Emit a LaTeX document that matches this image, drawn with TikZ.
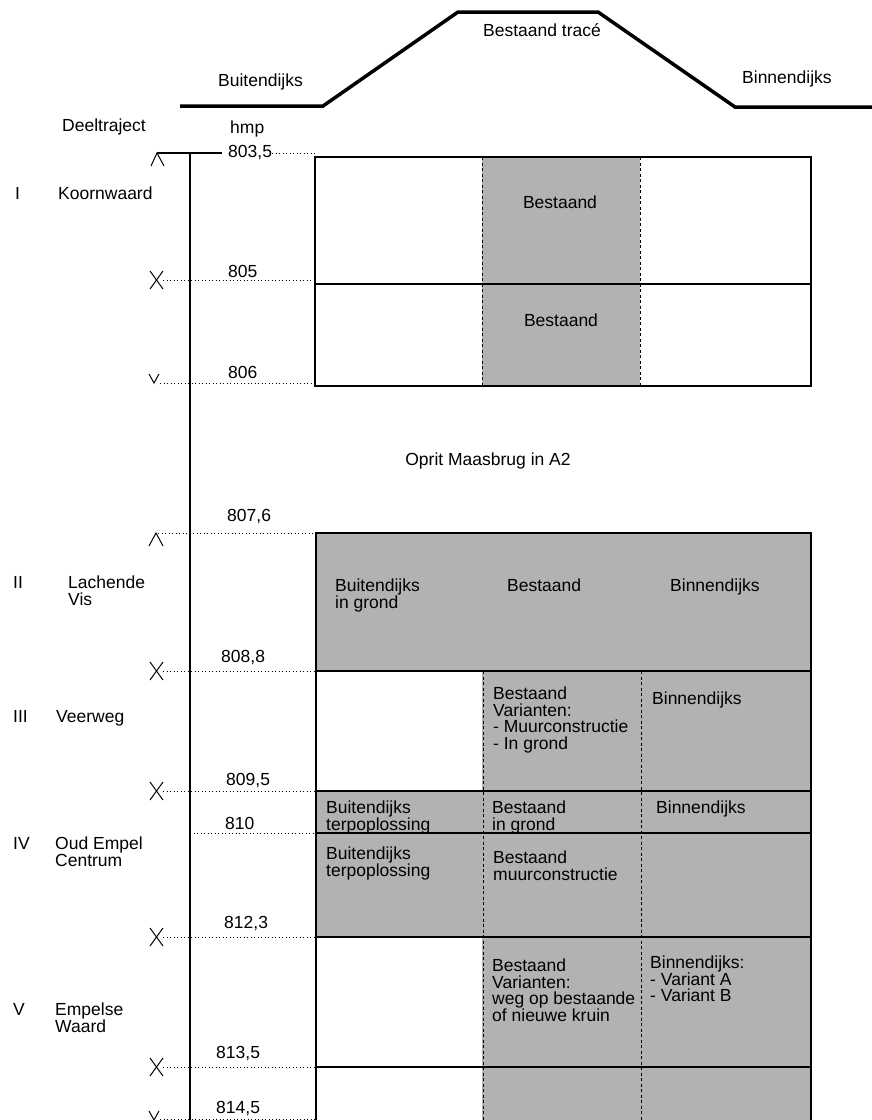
\documentclass[tikz,border=0pt]{standalone}
\usepackage{fontspec}
\setmainfont{Liberation Sans}
\tikzset{
  lbl/.style={font=\fontsize{17.5}{16.5}\selectfont, inner sep=0pt, align=left, anchor=north west},
  kmlbl/.style={font=\fontsize{17.5}{16.5}\selectfont, inner sep=0pt, anchor=west},
  shade/.style={fill=black!30, draw=none},
  kmline/.style={line width=1pt, dash pattern=on 1.2pt off 2.3pt},
  boxline/.style={line width=1.5pt},
  divline/.style={line width=0.7pt, dash pattern=on 3pt off 2.5pt},
  profile/.style={line width=3.5pt, line join=miter},
  kmmark/.style={line width=1pt}
}
\begin{document}
\begin{tikzpicture}[x=1pt, y=-1pt]
    \useasboundingbox (0,0) rectangle (872,1120);

    % 绘制堤身断面
    \draw[profile] (180,106) -- (323,106) -- (458,12) -- (598,12) -- (735,107) -- (872,107);
    \node[lbl] (buiten) at (218,74) {Buitendijks};
    \node[lbl] (trace) at (483,23) {Bestaand tracé};
    \node[lbl] (binnen) at (742,71) {Binnendijks};

    % 表头
    \node[lbl] (deel) at (62,119) {Deeltraject};
    \node[lbl] (hmp) at (230,121) {hmp};

    % 阴影区域
    \fill[shade] (482,157) rectangle (640,386);
    \fill[shade] (316,533) rectangle (811,671);
    \fill[shade] (482,671) rectangle (811,791);
    \fill[shade] (316,791) rectangle (811,937);
    \fill[shade] (482,937) rectangle (811,1120);

    % 上部表格
    \draw[boxline] (315,157) rectangle (811,386);
    \draw[boxline] (315,284) -- (811,284);
    \draw[divline] (482,157) -- (482,386);
    \draw[divline] (640,157) -- (640,386);

    % 下部表格
    \draw[boxline] (316,1120) -- (316,533) -- (811,533) -- (811,1120);
    \foreach \y in {671,791,833,937,1067}
        \draw[boxline] (316,\y) -- (811,\y);
    \draw[divline] (483,671) -- (483,1120);
    \draw[divline] (641,671) -- (641,1120);

    % 纵轴
    \draw[line width=1.4pt] (190,153) -- (190,1120);
    \draw[line width=1.2pt] (157,153) -- (222,153);

    % 标记
    \draw[kmmark] (151,166) -- (157,153) -- (164,166);
    \draw[kmmark] (149,546) -- (156,533) -- (163,546);
    \draw[kmmark] (149,374) -- (154,383) -- (159,374);
    \draw[kmmark] (149,1111) -- (154,1120) -- (159,1111);
    \foreach \y in {280,671,791,937,1067} {
        \draw[kmmark] (150,\y-9) -- (163,\y+9);
        \draw[kmmark] (163,\y-9) -- (150,\y+9);
        \draw[kmline] (163,\y) -- (315,\y);
    }
    \draw[kmline] (272,153) -- (315,153);
    \draw[kmline] (160,383) -- (315,383);
    \draw[kmline] (158,533) -- (318,533);
    \draw[kmline] (190,833) -- (316,833);
    \draw[kmline] (160,1119) -- (316,1119);

    % 百米标
    \node[kmlbl] (h8035) at (228,153) {803,5};
    \node[kmlbl] (h805) at (228,271) {805};
    \node[kmlbl] (h806) at (228,372) {806};
    \node[kmlbl] (h8076) at (227,517) {807,6};
    \node[kmlbl] (h8088) at (221,657) {808,8};
    \node[kmlbl] (h8095) at (226,780) {809,5};
    \node[kmlbl] (h810) at (225,823) {810};
    \node[kmlbl] (h8123) at (224,923) {812,3};
    \node[kmlbl] (h8135) at (216,1053) {813,5};
    \node[kmlbl] (h8145) at (216,1108) {814,5};

    % 分段
    \node[lbl] (n1) at (15,187) {I};
    \node[lbl] (d1) at (58,187) {Koornwaard};
    \node[lbl] (n2) at (13,576) {II};
    \node[lbl] (d2) at (68,576) {Lachende\\Vis};
    \node[lbl] (n3) at (13,710) {III};
    \node[lbl] (d3) at (56,710) {Veerweg};
    \node[lbl] (n4) at (13,837) {IV};
    \node[lbl] (d4) at (55,837) {Oud Empel\\Centrum};
    \node[lbl] (n5) at (13,1003) {V};
    \node[lbl] (d5) at (55,1003) {Empelse\\Waard};

    % 单元格文字
    \node[lbl, anchor=center] (c1) at (560,202) {Bestaand};
    \node[lbl, anchor=center] (c2) at (561,320) {Bestaand};
    \node[lbl, anchor=center] (oprit) at (488,461) {Oprit Maasbrug in A2};
    \node[lbl] (c3) at (335,579) {Buitendijks\\in grond};
    \node[lbl] (c4) at (507,579) {Bestaand};
    \node[lbl] (c5) at (670,579) {Binnendijks};
    \node[lbl] (c6) at (493,687) {Bestaand\\Varianten:\\- Muurconstructie\\- In grond};
    \node[lbl] (c7) at (652,692) {Binnendijks};
    \node[lbl] (c8) at (326,801) {Buitendijks\\terpoplossing};
    \node[lbl] (c9) at (492,801) {Bestaand\\in grond};
    \node[lbl] (c10) at (656,801) {Binnendijks};
    \node[lbl] (c11) at (326,847) {Buitendijks\\terpoplossing};
    \node[lbl] (c12) at (493,851) {Bestaand\\muurconstructie};
    \node[lbl] (c13) at (492,959) {Bestaand\\Varianten:\\weg op bestaande\\of nieuwe kruin};
    \node[lbl] (c14) at (650,956) {Binnendijks:\\- Variant A\\- Variant B};
\end{tikzpicture}
\end{document}
